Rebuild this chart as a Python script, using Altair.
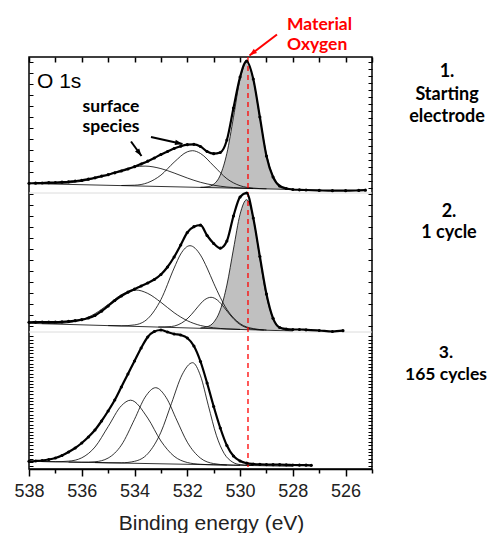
import altair as alt
import pandas as pd

# ---------------- data (binding energy in eV, offset intensity in a.u.) ----------------
# Panel 1 : starting electrode
p1_data_E = [538.0, 537.75, 537.5, 537.25, 537.0, 536.75, 536.5, 536.25, 536.0, 535.75, 535.5, 535.25,
             535.0, 534.75, 534.5, 534.25, 534.0, 533.75, 533.5, 533.25, 533.0, 532.75, 532.5, 532.25,
             532.0, 531.75, 531.5, 531.25, 531.0, 530.75, 530.5, 530.25, 530.0, 529.75, 529.5, 529.25,
             529.0, 528.75, 528.5, 528.25, 528.0, 527.75, 527.5, 527.0, 526.5, 526.0, 525.5, 525.25]
p1_data_I = [285.7, 285.8, 286.0, 286.3, 286.5, 286.8, 287.2, 288.0, 288.6, 289.8, 291.2, 292.8,
             294.3, 296.2, 298.0, 300.0, 302.3, 305.0, 307.8, 311.0, 314.5, 317.5, 320.5, 322.8,
             324.3, 324.7, 322.5, 317.5, 315.3, 316.5, 329.0, 361.0, 392.0, 408.0, 390.0, 352.0,
             313.0, 292.0, 283.0, 280.5, 279.5, 279.2, 279.0, 278.6, 278.3, 278.3, 278.6, 278.8]
p1_bg_E = [538.0, 528.0]
p1_bg_I = [285.5, 279.5]
p1_A_E = [531.5, 531.25, 531.0, 530.75, 530.5, 530.25, 530.0, 529.75, 529.5, 529.25, 529.0, 528.75, 528.5, 528.25, 528.0]
p1_A_I = [281.7, 282.2, 284.8, 293.9, 315.7, 351.8, 389.9, 406.6, 389.6, 351.2, 314.8, 292.7, 283.3, 280.4, 279.5]
p1_A_base = [281.6, 281.45, 281.3, 281.15, 281.0, 280.85, 280.7, 280.55, 280.4, 280.25, 280.1, 279.95, 279.8, 279.65, 279.5]
p1_B_E = [534.5, 534.0, 533.5, 533.0, 532.5, 532.0, 531.8, 531.5, 531.0, 530.5, 530.0, 529.5, 529.0]
p1_B_I = [283.5, 283.8, 286.3, 293.9, 306.8, 317.2, 318.3, 315.5, 303.1, 290.3, 283.3, 280.9, 280.2]
p1_C_E = [537.5, 537.0, 536.5, 536.0, 535.5, 535.0, 534.5, 534.0, 533.6, 533.0, 532.5, 532.0, 531.5, 531.0, 530.5, 530.0, 529.5]
p1_C_I = [285.4, 285.5, 286.1, 287.7, 290.6, 294.6, 299.0, 302.1, 302.9, 300.4, 296.0, 291.0, 286.7, 283.8, 282.0, 281.1, 280.5]

# Panel 2 : 1 cycle
p2_data_E = [538.0, 537.75, 537.5, 537.25, 537.0, 536.75, 536.5, 536.25, 536.0, 535.75, 535.5, 535.25,
             535.0, 534.75, 534.5, 534.25, 534.0, 533.75, 533.5, 533.25, 533.0, 532.75, 532.5, 532.25,
             532.0, 531.75, 531.5, 531.25, 531.0, 530.75, 530.5, 530.25, 530.0, 529.75, 529.5, 529.25,
             529.0, 528.75, 528.5, 528.25, 528.0, 527.75, 527.5, 527.0, 526.5, 526.1]
p2_data_I = [146.7, 146.9, 147.0, 147.0, 147.0, 147.2, 147.6, 148.3, 149.3, 151.0, 153.5, 157.8,
             163.0, 168.5, 173.0, 176.8, 179.8, 183.0, 186.0, 189.5, 194.5, 202.0, 212.0, 224.0,
             236.5, 242.3, 243.8, 233.5, 225.5, 220.8, 228.0, 253.0, 272.0, 276.0, 251.0, 212.5,
             175.0, 150.7, 141.5, 140.0, 139.5, 139.5, 139.2, 138.5, 137.5, 138.3]
p2_bg_E = [538.0, 528.0]
p2_bg_I = [145.7, 138.0]
p2_A_E = [531.5, 531.25, 531.0, 530.75, 530.5, 530.25, 530.0, 529.75, 529.5, 529.25, 529.0, 528.75, 528.5, 528.25, 528.0]
p2_A_I = [141.1, 142.2, 146.7, 159.1, 183.9, 220.0, 254.8, 269.3, 251.3, 210.8, 172.9, 150.7, 141.6, 138.8, 138.0]
p2_A_base = [140.7, 140.5, 140.3, 140.1, 139.9, 139.7, 139.5, 139.3, 139.2, 139.0, 138.8, 138.6, 138.4, 138.2, 138.0]
p2_B_E = [535.0, 534.5, 534.0, 533.5, 533.0, 532.5, 532.25, 531.9, 531.5, 531.25, 531.0, 530.5, 530.0, 529.5, 529.0]
p2_B_I = [143.4, 143.2, 144.1, 150.3, 169.4, 200.9, 215.0, 223.3, 213.9, 201.0, 185.8, 159.6, 145.4, 140.4, 139.0]
p2_C_E = [537.5, 537.0, 536.5, 536.0, 535.5, 535.0, 534.5, 533.95, 533.5, 533.0, 532.5, 532.0, 531.5, 531.0, 530.5, 530.0]
p2_C_I = [145.4, 145.5, 146.4, 149.3, 155.3, 164.5, 174.3, 179.0, 175.6, 166.7, 156.3, 148.3, 143.5, 141.2, 140.1, 139.6]
p2_D_E = [533.1, 532.6, 532.35, 532.1, 531.85, 531.6, 531.35, 531.1, 530.85, 530.6, 530.35, 530.1, 529.85, 529.6, 529.1]
p2_D_I = [142.0, 142.5, 144.2, 148.0, 154.3, 162.2, 169.1, 171.7, 168.7, 161.4, 153.1, 146.4, 142.3, 140.2, 138.9]

# Panel 3 : 165 cycles
p3_data_E = [538.0, 537.75, 537.5, 537.25, 537.0, 536.75, 536.5, 536.25, 536.0, 535.75, 535.5, 535.25,
             535.0, 534.75, 534.5, 534.25, 534.0, 533.75, 533.5, 533.25, 533.0, 532.75, 532.5, 532.25,
             532.0, 531.75, 531.5, 531.25, 531.0, 530.75, 530.5, 530.25, 530.0, 529.75, 529.5, 529.25,
             529.0, 528.75, 528.5, 528.25, 528.0, 527.75, 527.5, 527.3]
p3_data_I = [7.7, 8.0, 8.5, 9.5, 11.0, 13.5, 17.0, 21.0, 26.0, 32.0, 39.0, 48.0,
             58.0, 69.0, 82.0, 95.0, 108.0, 121.0, 132.0, 137.5, 139.0, 137.0, 135.0, 134.0,
             131.0, 123.0, 107.5, 86.0, 62.5, 41.0, 23.5, 13.0, 8.0, 5.8, 5.0, 4.6,
             4.4, 4.3, 4.3, 4.2, 4.0, 3.9, 3.8, 3.7]
p3_bg_E = [538.0, 528.0]
p3_bg_I = [7.7, 2.7]
p3_A_E = [535.5, 535.0, 534.5, 534.0, 533.5, 533.0, 532.6, 532.2, 531.8, 531.5, 531.2, 530.9, 530.6, 530.3, 530.0, 529.5]
p3_A_I = [6.45, 6.2, 6.2, 7.7, 15.25, 36.8, 65.6, 94.1, 106.3, 93.15, 63.2, 33.75, 15.4, 7.15, 4.4, 3.45]
p3_B_E = [536.5, 536.0, 535.5, 535.0, 534.5, 534.0, 533.6, 533.2, 532.8, 532.4, 532.0, 531.5, 531.0, 530.5, 530.0]
p3_B_I = [6.95, 6.8, 7.25, 10.95, 23.85, 49.7, 71.8, 81.3, 71.4, 48.9, 26.8, 10.85, 5.4, 4.1, 3.7]
p3_C_E = [537.5, 537.0, 536.5, 536.0, 535.5, 535.0, 534.5, 534.15, 533.5, 533.0, 532.5, 532.0, 531.5, 531.0, 530.5]
p3_C_I = [7.45, 7.3, 7.85, 11.2, 21.95, 42.4, 63.25, 68.8, 50.95, 28.0, 12.75, 6.5, 4.75, 4.2, 3.95]

material_oxygen_E = [529.7]
panel_edges = [276.0, 137.0]

x_all_ticks = [538, 537, 536, 535, 534, 533, 532, 531, 530, 529, 528, 527, 526, 525]

stage_labels = [["1.", "Starting", "electrode"], ["2.", "1 cycle"], ["3.", "165 cycles"]]
peak_label = ["Material", "Oxygen"]
region_label = "O 1s"
species_label = ["surface", "species"]

# ---------------- tables ----------------
def frame(E, I, curve, panel):
    return pd.DataFrame({"E": E, "I": I, "curve": curve, "panel": panel})

comp_df = pd.concat([
    frame(p1_bg_E, p1_bg_I, "p1_bg", 1), frame(p1_A_E, p1_A_I, "p1_A", 1),
    frame(p1_B_E, p1_B_I, "p1_B", 1), frame(p1_C_E, p1_C_I, "p1_C", 1),
    frame(p2_bg_E, p2_bg_I, "p2_bg", 2), frame(p2_A_E, p2_A_I, "p2_A", 2),
    frame(p2_B_E, p2_B_I, "p2_B", 2), frame(p2_C_E, p2_C_I, "p2_C", 2),
    frame(p2_D_E, p2_D_I, "p2_D", 2),
    frame(p3_bg_E, p3_bg_I, "p3_bg", 3), frame(p3_A_E, p3_A_I, "p3_A", 3),
    frame(p3_B_E, p3_B_I, "p3_B", 3), frame(p3_C_E, p3_C_I, "p3_C", 3),
], ignore_index=True)

data_df = pd.concat([
    frame(p1_data_E, p1_data_I, "p1", 1),
    frame(p2_data_E, p2_data_I, "p2", 2),
    frame(p3_data_E, p3_data_I, "p3", 3),
], ignore_index=True)

area_df = pd.concat([
    pd.DataFrame({"E": p1_A_E, "I": p1_A_I, "base": p1_A_base, "curve": "p1_A"}),
    pd.DataFrame({"E": p2_A_E, "I": p2_A_I, "base": p2_A_base, "curve": "p2_A"}),
], ignore_index=True)

W, H = 343, 412
xs = alt.Scale(domain=[538, 525], nice=False, zero=False)
ys = alt.Scale(domain=[0, 412], nice=False, zero=False)

def X():
    return alt.X("E:Q", scale=xs, axis=None)

def Y():
    return alt.Y("I:Q", scale=ys, axis=None)

grey = alt.Chart(area_df).mark_area(color="#c0c0c0", opacity=1, interpolate="monotone").encode(
    x=X(), y=Y(), y2="base:Q", detail="curve:N")

comps = alt.Chart(comp_df).mark_line(color="black", strokeWidth=0.8, interpolate="monotone").encode(
    x=X(), y=Y(), detail="curve:N")

env = alt.Chart(data_df).mark_line(color="black", strokeWidth=2.2, interpolate="monotone").encode(
    x=X(), y=Y(), detail="curve:N")

dots = alt.Chart(data_df).mark_circle(color="black", size=10, opacity=1).encode(x=X(), y=Y())

red_line = alt.Chart(pd.DataFrame({"E": material_oxygen_E})).mark_rule(
    color="#ff0000", strokeDash=[5, 4], strokeWidth=1.3).encode(
    x=X(), y=alt.value(0), y2=alt.value(H))

separators = alt.Chart(pd.DataFrame({"I": panel_edges})).mark_rule(
    color="#dcdcdc", strokeWidth=1).encode(y=Y(), x=alt.value(0), x2=alt.value(W))

left_ticks = list(range(143, 412, 11)) + [round(v * 3.4, 1) for v in range(1, 40)]
right_ticks = list(range(281, 412, 7)) + list(range(143, 276, 11)) + [round(v * 3.4, 1) for v in range(1, 40)]

bottom_axis = alt.Axis(
    values=x_all_ticks, labelExpr="datum.value % 2 === 0 ? datum.label : ''",
    tickSize={"condition": {"test": "datum.value % 2 === 0", "value": 7}, "value": 4},
    labelFontSize=18, labelFont="Liberation Sans", labelColor="#222222", labelPadding=6,
    labelFlush=False, labelOverlap=False, tickColor="black", tickWidth=1.5,
    domain=True, domainColor="black", domainWidth=1.5, grid=False,
    titleFontSize=21, titleFont="Liberation Sans", titleFontWeight="normal", titleColor="#222222",
    titleX=182, titleY=60, titleBaseline="alphabetic", titleAlign="center")
left_axis = alt.Axis(values=left_ticks, labels=False, domain=False, tickSize=4, offset=-4,
                     tickColor="black", tickWidth=1, grid=False)
top_axis = alt.Axis(orient="top", values=x_all_ticks, labels=False, domain=False, tickSize=5, offset=-5,
                    tickColor="black", tickWidth=1.5, grid=False)
right_axis = alt.Axis(orient="right", values=right_ticks, labels=False, domain=False, tickSize=4, offset=-4,
                      tickColor="black", tickWidth=1, grid=False)

axes1 = alt.Chart(data_df).mark_point(opacity=0).encode(
    x=alt.X("E:Q", scale=xs, axis=bottom_axis, title="Binding energy (eV)"),
    y=alt.Y("I:Q", scale=ys, axis=left_axis, title=""))
axes2 = alt.Chart(data_df).mark_point(opacity=0).encode(
    x=alt.X("E:Q", scale=xs, axis=top_axis, title=""),
    y=alt.Y("I:Q", scale=ys, axis=right_axis, title=""))

one = pd.DataFrame({"a": [0]})

def txt(text, x, y, size=18, color="black", weight="bold", font="Lato", align="center"):
    return alt.Chart(one).mark_text(font=font, fontSize=size, fontWeight=weight, color=color,
                                    align=align, baseline="middle").encode(
        x=alt.value(x), y=alt.value(y), text=alt.value(text))

texts = []
for lines, x0, ys0, dy, fs in [(stage_labels[0], 418, 15, 22.5, 18), (stage_labels[1], 420, 155, 20.5, 18),
                               (stage_labels[2], 417, 296, 22, 17.5)]:
    for k, line in enumerate(lines):
        texts.append(txt(line, x0, ys0 + k * dy, size=fs))
texts.append(txt(peak_label[0], 258, -32, size=17.5, color="#ff0000", align="left"))
texts.append(txt(peak_label[1], 258, -12, size=17.5, color="#ff0000", align="left"))
texts.append(txt(region_label, 8, 25, size=21, weight="normal", font="Liberation Sans", align="left"))
texts.append(txt(species_label[0], 82, 49.5, size=17.5))
texts.append(txt(species_label[1], 82, 70, size=17.5))

def arrow(x1, y1, x2, y2, ang, color):
    shaft = alt.Chart(one).mark_rule(color=color, strokeWidth=2).encode(
        x=alt.value(x1), y=alt.value(y1), x2=alt.value(x2), y2=alt.value(y2))
    head = alt.Chart(one).mark_point(shape="M0,0L-0.7,2L0.7,2Z", filled=True, color=color,
                                     size=56, opacity=1, angle=ang).encode(
        x=alt.value(x2), y=alt.value(y2))
    return [shaft, head]

arrows = (arrow(102, 84.5, 112.5, 99, 144, "black") + arrow(122, 80, 153.5, 87, 102.5, "black")
          + arrow(248, -22.5, 220.5, -1.5, 232, "#ff0000"))

chart = alt.layer(
    grey, comps, separators, red_line, env, dots, axes1, axes2, *texts, *arrows
).resolve_axis(x="independent", y="independent").properties(
    width=W, height=H,
    autosize=alt.AutoSizeParams(type="none"),
    padding={"left": 21, "top": 49, "right": 115, "bottom": 64},
).configure_view(stroke="black", strokeWidth=1.5)

chart.save("out.html", embed_options={"renderer": "svg", "actions": False})
